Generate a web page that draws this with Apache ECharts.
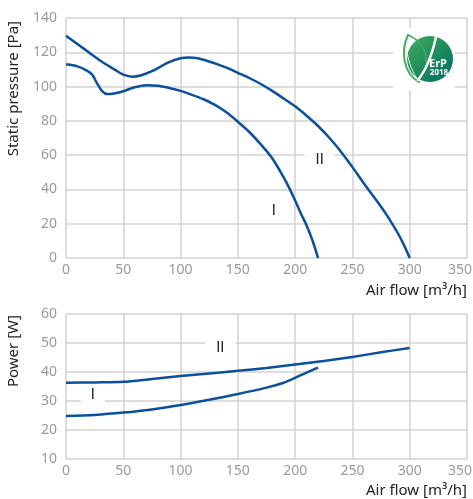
<!DOCTYPE html>
<html><head><meta charset="utf-8">
<script src="https://cdn.jsdelivr.net/npm/echarts@6/dist/echarts.min.js"></script>
<style>html,body{margin:0;padding:0;background:#fff}#c{width:473px;height:499px}</style>
</head><body><div id="c"></div>
<script>
// Static pressure, curve I
const pI_x = [0,10,17,23,27,32,36,43,50,60,70,80,90,100,110,120,130,140,150,160,170,180,190,195,200,205,210,215,220];
const pI_y = [113,111.8,109.7,106.8,102,97,95.6,96.1,97.3,99.6,100.8,100.5,99.2,97.5,95.2,92.6,89.3,85,79.5,73.5,66.3,58.2,47,40.6,33.5,26,19,10.5,0];
// Static pressure, curve II
const pII_x = [0,10,17,29,43,50,58,65,75,90,100,107,115,130,140,150,160,170,180,190,200,210,220,230,240,250,260,270,280,290,295,300];
const pII_y = [129.7,124.8,121.4,115.5,109.7,107,105.8,106.5,109,114.3,116.5,117,116.5,113.5,111,108,105,101.5,97.5,93,88.5,83,77,70,62,53,43.5,34.5,25,14,7.5,0];
// Power, curve I
const wI_x = [0,25,50,75,100,125,150,175,190,200,210,220];
const wI_y = [24.8,25.2,26,27.1,28.6,30.4,32.4,34.6,36.3,38,39.8,41.5];
// Power, curve II
const wII_x = [0,25,50,75,100,125,150,175,200,225,250,275,300];
const wII_y = [36.3,36.4,36.6,37.6,38.6,39.5,40.4,41.4,42.6,43.8,45.2,46.8,48.3];
// Axis ticks
const xTicks = {min:0, max:350, interval:50};
const pTicks = {min:0, max:140, interval:20};
const wTicks = {min:10, max:60, interval:10};
// Curve labels [x, y, text]
const pLabels = [[221.4,57.2,'II'],[181.3,27.4,'I']];
const wLabels = [[134.7,48.3,'II'],[23.3,32.1,'I']];

const zip = (xs, ys) => xs.map((x,i)=>[x, ys[i]]);
const FONT = 'Noto Sans';
const LINE = '#0b4f9f';
const GRIDC = '#d2d2d2';
const TICKC = '#9a9a9a';

function xAx(gi){
  return {type:'value', gridIndex:gi, min:xTicks.min, max:xTicks.max, interval:xTicks.interval,
    axisLine:{show:false}, axisTick:{show:false},
    axisLabel:{color:TICKC, fontSize:14, fontFamily:FONT, margin:5,
      formatter:v=> v===xTicks.max ? '{r|'+v+'}' : String(v),
      rich:{r:{color:TICKC, fontSize:14, fontFamily:FONT, padding:[0,14,0,0]}}},
    splitLine:{show:true, lineStyle:{color:GRIDC, width:1.5}}};
}
function yAx(gi, t){
  return {type:'value', gridIndex:gi, min:t.min, max:t.max, interval:t.interval,
    axisLine:{show:false}, axisTick:{show:false},
    axisLabel:{color:TICKC, fontSize:14, fontFamily:FONT, margin:9},
    splitLine:{show:true, lineStyle:{color:GRIDC, width:1.5}}};
}
function ser(gi, data){
  return {type:'line', xAxisIndex:gi, yAxisIndex:gi, data:data, smooth:0.3, showSymbol:false,
    symbol:'none', lineStyle:{color:LINE, width:2.5}, animation:false, z:3};
}
function bz(a,b,c,d,stroke,w){
  return {type:'bezierCurve', z:52, shape:{x1:a[0],y1:a[1],cpx1:b[0],cpy1:b[1],cpx2:c[0],cpy2:c[1],x2:d[0],y2:d[1]},
    style:{fill:'none', stroke:stroke, lineWidth:w, lineCap:'round'}};
}

const chart = echarts.init(document.getElementById('c'), null, {renderer:'canvas'});
chart.setOption({
  animation:false,
  grid:[{left:66, right:6, top:18, height:240, outerBoundsMode:'none', containLabel:false},
        {left:66, right:6, top:314, height:145, outerBoundsMode:'none', containLabel:false}],
  xAxis:[xAx(0), xAx(1)],
  yAxis:[yAx(0,pTicks), yAx(1,wTicks)],
  series:[
    ser(0, zip(pI_x,pI_y)),
    ser(0, zip(pII_x,pII_y)),
    ser(1, zip(wI_x,wI_y)),
    ser(1, zip(wII_x,wII_y))
  ]
});

function curveLabel(gi, l){
  const p = chart.convertToPixel({gridIndex:gi}, [l[0], l[1]]);
  const w = l[2]==='II' ? 30 : 24;
  return [
    {type:'rect', z:40, shape:{x:p[0]-w/2, y:p[1]-10, width:w, height:20}, style:{fill:'#fff'}},
    {type:'text', z:41, x:p[0], y:p[1], style:{text:l[2], fill:'#222', font:'15px Roboto, "DejaVu Sans", sans-serif', align:'center', verticalAlign:'middle'}}
  ];
}
const labelG = [].concat(...pLabels.map(l=>curveLabel(0,l)), ...wLabels.map(l=>curveLabel(1,l)));

chart.setOption({
  graphic:[
    ...labelG,
    {type:'text', x:14, y:21, rotation:Math.PI/2, z:50, style:{text:'Static pressure [Pa]', fill:'#222', font:'15px "Noto Sans"', align:'right', verticalAlign:'middle'}},
    {type:'text', x:14, y:315, rotation:Math.PI/2, z:50, style:{text:'Power [W]', fill:'#222', font:'15px "Noto Sans"', align:'right', verticalAlign:'middle'}},
    {type:'text', x:467, y:291, z:50, style:{text:'Air flow [m³/h]', fill:'#222', font:'15px "Noto Sans"', align:'right', verticalAlign:'middle'}},
    {type:'text', x:467, y:491, z:50, style:{text:'Air flow [m³/h]', fill:'#222', font:'15px "Noto Sans"', align:'right', verticalAlign:'middle'}},
    {type:'rect', z:50, shape:{x:393, y:28, width:62, height:62}, style:{fill:'#fff'}},
    {type:'circle', z:51, shape:{cx:430, cy:59, r:23}, style:{fill:new echarts.graphic.LinearGradient(0,0,1,1,[{offset:0,color:'#3fad5c'},{offset:1,color:'#006b61'}])}},
    bz([419,82],[404,74],[400,52],[408,35],'#3fad5c',2),
    bz([408,35],[420,40],[427,50],[426,62],'#3fad5c',1.5),
    bz([436,37],[432,55],[426,70],[418,80],'#ffffff',2.5),
    bz([407,52],[409,64],[413,73],[418,80],'#e8f5e9',1),
    {type:'text', z:53, x:438, y:64, style:{text:'ErP', fill:'#fff', font:'bold 11px "Noto Sans"', align:'center', verticalAlign:'middle'}},
    {type:'text', z:53, x:439, y:73, style:{text:'2018', fill:'#fff', font:'bold 8px "Noto Sans"', align:'center', verticalAlign:'middle'}}
  ]
});
</script></body></html>
